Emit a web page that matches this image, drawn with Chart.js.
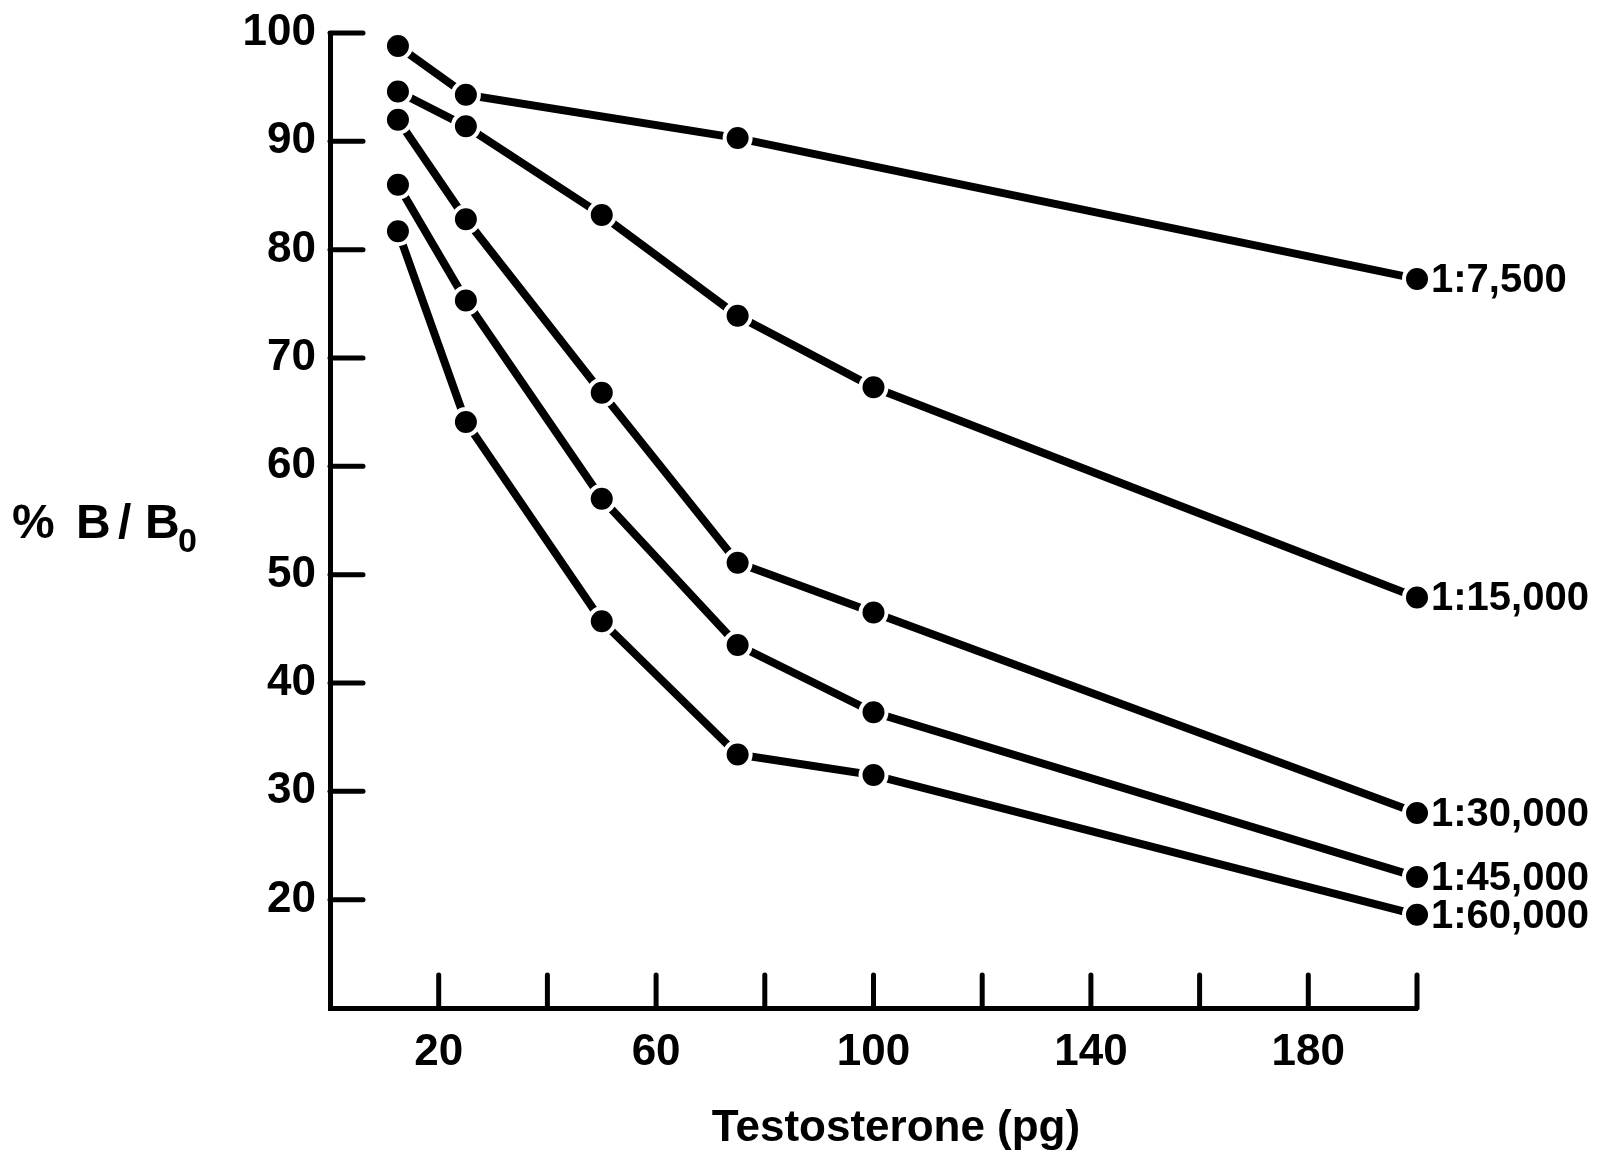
<!DOCTYPE html>
<html>
<head>
<meta charset="utf-8">
<script src="https://cdn.jsdelivr.net/npm/chart.js@4.4.0/dist/chart.umd.min.js"></script>
<style>
html, body { margin: 0; padding: 0; background: #fff; }
</style>
</head>
<body>
<canvas id="chart" width="1608" height="1161"></canvas>
<script>
// testosterone dose (pg)
const doses = [12.5, 25, 50, 75, 100, 200];
const dilutions = ['1:7,500', '1:15,000', '1:30,000', '1:45,000', '1:60,000'];
// % B/B0 per antiserum dilution (null = no point)
const bb0_7500 = [98.8, 94.3, null, 90.3, null, 77.3];
const bb0_15000 = [94.6, 91.4, 83.2, 73.9, 67.3, 47.9];
const bb0_30000 = [92.0, 82.8, 66.8, 51.1, 46.5, 28.0];
const bb0_45000 = [86.0, 75.3, 57.0, 43.5, 37.3, 22.1];
const bb0_60000 = [81.7, 64.1, 45.7, 33.4, 31.5, 18.6];
const yTicks = [20, 30, 40, 50, 60, 70, 80, 90, 100];
const xTicks = [20, 40, 60, 80, 100, 120, 140, 160, 180, 200];

const FONT = 'Liberation Sans';
Chart.defaults.font.family = FONT;
Chart.defaults.color = '#000';

function toPoints(values) {
    const pts = [];
    values.forEach((v, i) => {
        if (v !== null) pts.push({ x: doses[i], y: v });
    });
    return pts;
}

const allSeries = [bb0_7500, bb0_15000, bb0_30000, bb0_45000, bb0_60000];

const datasets = allSeries.map((vals, i) => ({
    label: dilutions[i],
    data: toPoints(vals),
    borderColor: '#000',
    borderWidth: 8,
    pointRadius: 13,
    pointHoverRadius: 13,
    pointBackgroundColor: '#000',
    pointBorderColor: '#fff',
    pointBorderWidth: 4,
    tension: 0,
    clip: false
}));

// ticks pointing into the plot, like the original drawing
const innerTicks = {
    id: 'innerTicks',
    afterDraw(chart) {
        const ctx = chart.ctx;
        const xs = chart.scales.x, ys = chart.scales.y;
        const area = chart.chartArea;
        ctx.save();
        ctx.strokeStyle = '#000';
        ctx.lineWidth = 5;
        ctx.lineCap = 'round';
        yTicks.forEach(v => {
            const py = ys.getPixelForValue(v);
            ctx.beginPath();
            ctx.moveTo(area.left, py);
            ctx.lineTo(area.left + 33, py);
            ctx.stroke();
        });
        xTicks.forEach(v => {
            const px = xs.getPixelForValue(v);
            ctx.beginPath();
            ctx.moveTo(px, area.bottom);
            ctx.lineTo(px, area.bottom - 33);
            ctx.stroke();
        });
        ctx.restore();
    }
};

// dilution labels at the end of each curve + axis titles
const textLabels = {
    id: 'textLabels',
    afterDatasetsDraw(chart) {
        const ctx = chart.ctx;
        ctx.save();
        ctx.fillStyle = '#000';
        ctx.font = 'bold 40px ' + FONT;
        ctx.textAlign = 'left';
        ctx.textBaseline = 'middle';
        chart.data.datasets.forEach((ds, i) => {
            const meta = chart.getDatasetMeta(i);
            const last = meta.data[meta.data.length - 1];
            ctx.fillText(ds.label, last.x + 14, last.y + 2);
        });

        // y title: % B / B0 (horizontal)
        ctx.textBaseline = 'alphabetic';
        ctx.font = 'bold 48px ' + FONT;
        ctx.fillText('%', 12, 538);
        ctx.fillText('B', 76, 538);
        ctx.fillText('/', 118, 538);
        ctx.fillText('B', 145, 538);
        ctx.font = 'bold 34px ' + FONT;
        ctx.fillText('0', 178, 552);

        // x title
        ctx.font = 'bold 44px ' + FONT;
        ctx.textAlign = 'center';
        ctx.fillText('Testosterone (pg)', 896, 1141);
        ctx.restore();
    }
};

new Chart(document.getElementById('chart'), {
    type: 'line',
    data: { datasets: datasets },
    options: {
        responsive: false,
        animation: false,
        events: [],
        layout: { padding: { top: 33, right: 191, left: 0, bottom: 0 } },
        plugins: {
            legend: { display: false },
            tooltip: { enabled: false }
        },
        scales: {
            x: {
                type: 'linear',
                min: 0,
                max: 200,
                grid: { display: false, drawTicks: false },
                border: { display: true, color: '#000', width: 5 },
                ticks: {
                    stepSize: 20,
                    autoSkip: false,
                    maxRotation: 0,
                    padding: 18,
                    font: { size: 44, weight: 'bold' },
                    callback: v => (v % 40 === 20 ? v : '')
                },
                afterFit: scale => {
                    scale.height = 153;
                    scale.paddingLeft = 0;
                    scale.paddingRight = 0;
                }
            },
            y: {
                min: 10,
                max: 100,
                grid: { display: false, drawTicks: false },
                border: { display: true, color: '#000', width: 5 },
                ticks: {
                    stepSize: 10,
                    autoSkip: false,
                    padding: 14,
                    font: { size: 44, weight: 'bold' },
                    callback: v => (v === 10 ? '' : v)
                },
                afterFit: scale => {
                    scale.width = 330;
                    scale.paddingTop = 0;
                    scale.paddingBottom = 0;
                }
            }
        }
    },
    plugins: [innerTicks, textLabels]
});
</script>
</body>
</html>
